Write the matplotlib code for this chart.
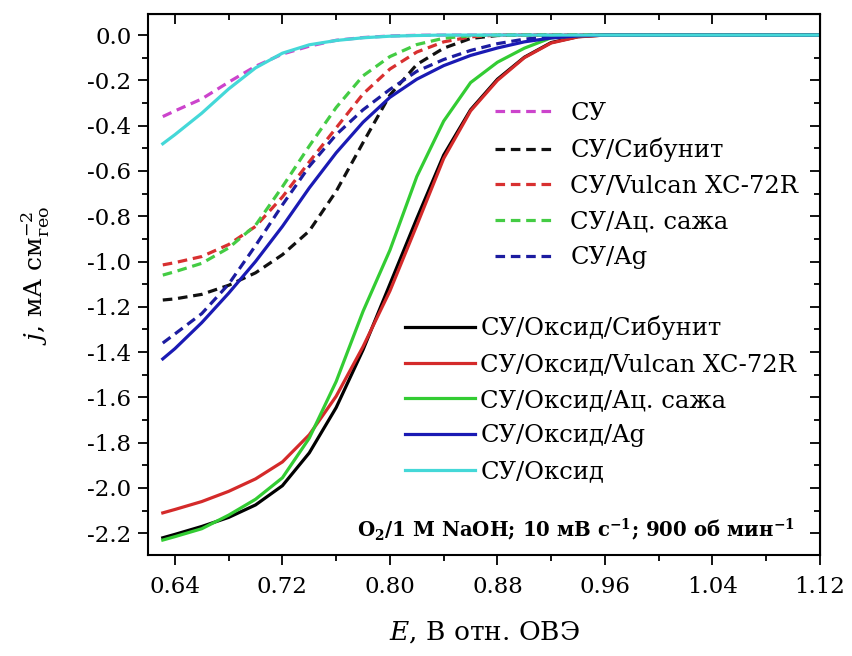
import matplotlib
matplotlib.use("Agg")
import matplotlib.pyplot as plt
from matplotlib.ticker import MultipleLocator, FormatStrFormatter

SERIF = "DejaVu Serif"
plt.rcParams["font.family"] = [SERIF]
plt.rcParams["mathtext.fontset"] = "custom"
plt.rcParams["mathtext.rm"] = SERIF
plt.rcParams["mathtext.it"] = SERIF + ":italic"
plt.rcParams["mathtext.bf"] = SERIF + ":bold"

# Potential grid, V vs RHE
E = [0.631, 0.64, 0.66, 0.68, 0.70, 0.72, 0.74, 0.76, 0.78, 0.80, 0.82,
     0.84, 0.86, 0.88, 0.90, 0.92, 0.94, 0.96, 1.00, 1.04, 1.08, 1.12]

# Current density, mA cm^-2 (geometric)
j_gc = [-0.36, -0.335, -0.282, -0.208, -0.138, -0.084, -0.049, -0.023, -0.011,
        -0.004, -0.001, 0, 0, 0, 0, 0, 0, 0, 0, 0, 0, 0]
j_gc_sibunit = [-1.17, -1.165, -1.145, -1.105, -1.05, -0.97, -0.865, -0.69, -0.475,
                -0.265, -0.13, -0.058, -0.015, -0.002, 0, 0, 0, 0, 0, 0, 0, 0]
j_gc_vulcan = [-1.015, -1.005, -0.978, -0.925, -0.845, -0.715, -0.56, -0.41, -0.26,
               -0.15, -0.075, -0.03, -0.008, 0, 0, 0, 0, 0, 0, 0, 0, 0]
j_gc_acet = [-1.06, -1.045, -1.008, -0.94, -0.84, -0.67, -0.49, -0.32, -0.18,
             -0.095, -0.042, -0.014, -0.003, 0, 0, 0, 0, 0, 0, 0, 0, 0]
j_gc_ag = [-1.36, -1.32, -1.23, -1.10, -0.93, -0.75, -0.58, -0.44, -0.33,
           -0.24, -0.16, -0.108, -0.068, -0.038, -0.018, -0.007, -0.002, 0, 0, 0, 0, 0]

j_ox_sibunit = [-2.22, -2.205, -2.17, -2.13, -2.075, -1.99, -1.845, -1.645, -1.39,
                -1.10, -0.81, -0.53, -0.33, -0.195, -0.098, -0.033, -0.007, 0, 0, 0, 0, 0]
j_ox_vulcan = [-2.11, -2.095, -2.06, -2.015, -1.96, -1.885, -1.765, -1.595, -1.376,
               -1.13, -0.84, -0.545, -0.335, -0.20, -0.10, -0.035, -0.008, 0, 0, 0, 0, 0]
j_ox_acet = [-2.23, -2.215, -2.18, -2.12, -2.05, -1.955, -1.78, -1.53, -1.22,
             -0.95, -0.625, -0.38, -0.21, -0.12, -0.058, -0.012, -0.003, 0, 0, 0, 0, 0]
j_ox_ag = [-1.43, -1.385, -1.27, -1.14, -1.0, -0.845, -0.675, -0.52, -0.385,
           -0.275, -0.195, -0.135, -0.09, -0.057, -0.03, -0.013, -0.004, 0, 0, 0, 0, 0]
j_ox = [-0.48, -0.44, -0.345, -0.238, -0.145, -0.08, -0.043, -0.024, -0.012,
        -0.005, -0.002, 0, 0, 0, 0, 0, 0, 0, 0, 0, 0, 0]

dashed_labels = ["СУ", "СУ/Сибунит", "СУ/Vulcan XC-72R", "СУ/Ац. сажа", "СУ/Ag"]
solid_labels = ["СУ/Оксид/Сибунит", "СУ/Оксид/Vulcan XC-72R", "СУ/Оксид/Ац. сажа",
                "СУ/Оксид/Ag", "СУ/Оксид"]

dashed_series = [j_gc, j_gc_sibunit, j_gc_vulcan, j_gc_acet, j_gc_ag]
solid_series = [j_ox_sibunit, j_ox_vulcan, j_ox_acet, j_ox_ag, j_ox]

dashed_colors = ["#cc44cc", "#111111", "#d83030", "#44cc44", "#1c1ca0"]
solid_colors = ["#000000", "#d42a2a", "#33cc33", "#1a1ab4", "#44d8d8"]

x_major = [0.64, 0.72, 0.80, 0.88, 0.96, 1.04, 1.12]
x_minor = [0.68, 0.76, 0.84, 0.92, 1.00, 1.08]

fig = plt.figure(figsize=(8.52, 6.56), dpi=100)
ax = fig.add_axes([148 / 852, 1 - 555 / 656, 672 / 852, 541 / 656])

lw = 2.3
dash_handles = []
for j, c, lab in zip(dashed_series, dashed_colors, dashed_labels):
    h, = ax.plot(E, j, color=c, lw=lw, linestyle=(0, (3.0, 1.8)), label=lab)
    dash_handles.append(h)
solid_handles = []
for j, c, lab in zip(solid_series, solid_colors, solid_labels):
    h, = ax.plot(E, j, color=c, lw=lw, label=lab)
    solid_handles.append(h)

ax.set_xlim(0.62, 1.12)
ax.set_ylim(-2.296, 0.093)

ax.set_xticks(x_major)
ax.set_xticks(x_minor, minor=True)
ax.xaxis.set_major_formatter(FormatStrFormatter("%.2f"))
ax.yaxis.set_major_locator(MultipleLocator(0.2))
ax.yaxis.set_minor_locator(MultipleLocator(0.1))
ax.yaxis.set_major_formatter(FormatStrFormatter("%.1f"))

ax.tick_params(which="both", direction="out", width=1.3, labelsize=16.5,
               top=False, right=False)
ax.tick_params(which="major", length=7)
ax.tick_params(which="minor", length=4)
ax.tick_params(axis="x", which="major", pad=8)
ax.tick_params(axis="y", which="major", pad=5)
for s in ax.spines.values():
    s.set_linewidth(1.5)

# inward ticks on the top and right frame
sec_x = ax.secondary_xaxis("top")
sec_x.set_xticks(x_major)
sec_x.set_xticks(x_minor, minor=True)
sec_x.tick_params(which="both", direction="in", labeltop=False, width=1.3)
sec_x.tick_params(which="major", length=7)
sec_x.tick_params(which="minor", length=4)
sec_y = ax.secondary_yaxis("right")
sec_y.yaxis.set_major_locator(MultipleLocator(0.2))
sec_y.yaxis.set_minor_locator(MultipleLocator(0.1))
sec_y.tick_params(which="both", direction="in", labelright=False, width=1.3)
sec_y.tick_params(which="major", length=7)
sec_y.tick_params(which="minor", length=4)

ax.set_xlabel(r"$E$, В отн. ОВЭ", fontsize=19)
ax.xaxis.set_label_coords(0.5, -0.118)
ax.set_ylabel(r"$j$, мА см$^{-2}_{\mathregular{гео}}$", fontsize=18)
ax.yaxis.set_label_coords(-0.143, 0.517)

leg1 = ax.legend(handles=dash_handles, loc="upper left",
                 bbox_to_anchor=((495 - 148) / 672, (555 - 102) / 541),
                 frameon=False, fontsize=17.5, handlelength=2.5, handletextpad=0.6,
                 labelspacing=0.52, borderaxespad=0, borderpad=0)
ax.add_artist(leg1)
leg2 = ax.legend(handles=solid_handles, loc="upper left",
                 bbox_to_anchor=((405 - 148) / 672, (555 - 316) / 541),
                 frameon=False, fontsize=17.5, handlelength=2.9, handletextpad=0.2,
                 labelspacing=0.52, borderaxespad=0, borderpad=0)

ax.text((795 - 148) / 672, (555 - 530) / 541,
        r"O$_\mathbf{2}$/1 M NaOH; 10 мВ с$^\mathbf{-1}$; 900 об мин$^\mathbf{-1}$",
        transform=ax.transAxes, ha="right", va="center", fontsize=14.2,
        fontweight="bold")

fig.savefig("out.png", dpi=100)
